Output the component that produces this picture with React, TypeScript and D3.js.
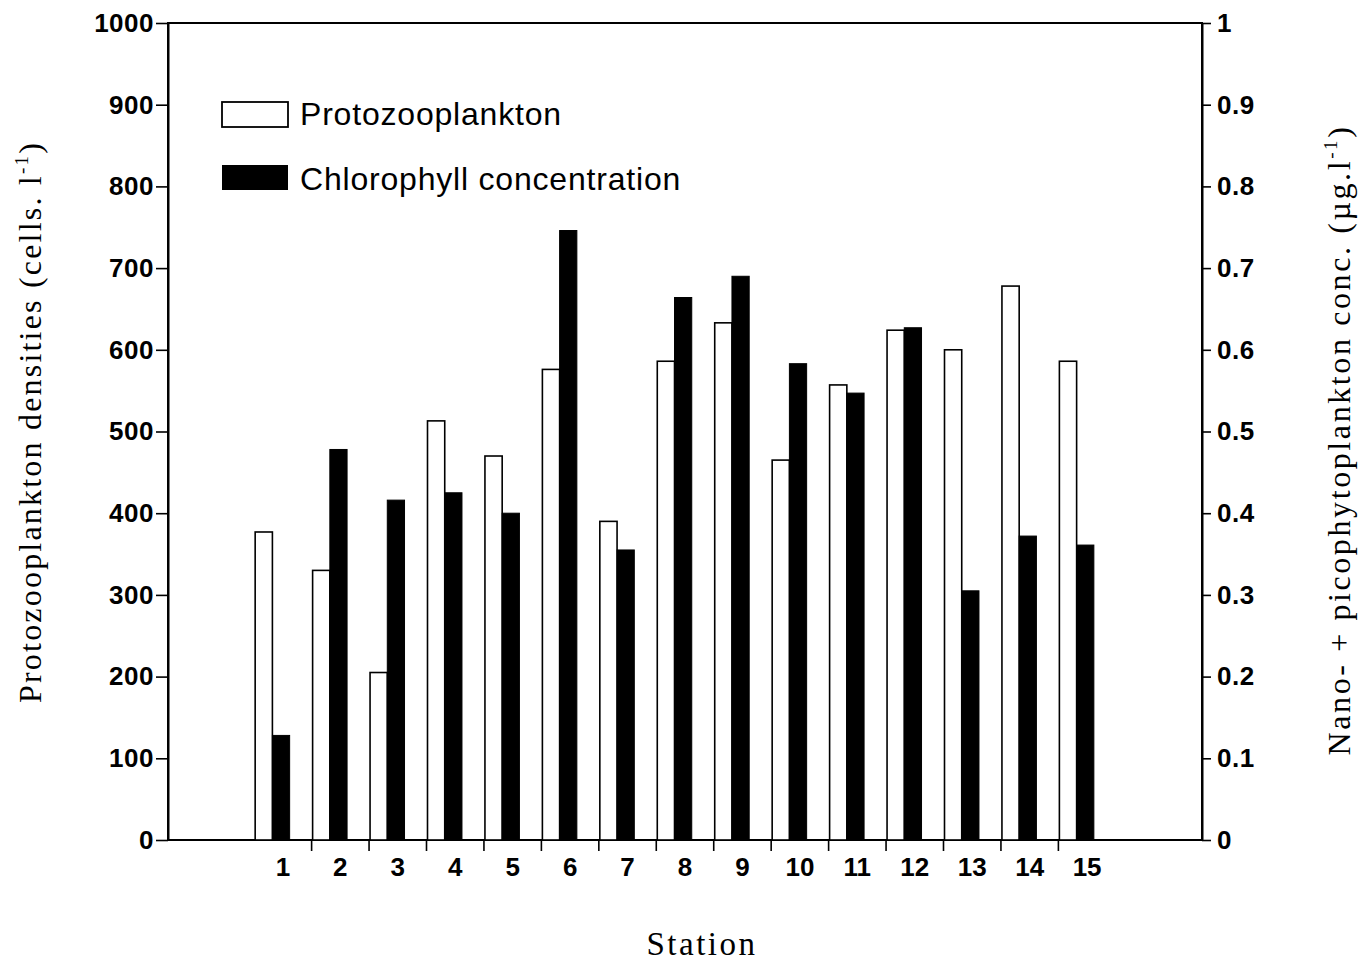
import React, { useEffect, useRef } from "react";
import * as d3 from "d3";

// Sampling stations along the transect
const stations = ["1", "2", "3", "4", "5", "6", "7", "8", "9", "10", "11", "12", "13", "14", "15"];
// Protozooplankton densities (cells per litre)
const protozooplankton = [377, 330, 205, 513, 470, 576, 390, 586, 633, 465, 557, 624, 600, 678, 586];
// Nano- + picophytoplankton chlorophyll concentration (µg per litre)
const chlorophyll = [0.128, 0.478, 0.416, 0.425, 0.4, 0.746, 0.355, 0.664, 0.69, 0.583, 0.547, 0.627, 0.305, 0.372, 0.361];
// Legend entries
const legendLabels = ["Protozooplankton", "Chlorophyll concentration"];

const W = 1361;
const H = 962;
const M = { left: 168, right: 1202, top: 23, bottom: 840 };

export default function App() {
  const ref = useRef<SVGSVGElement | null>(null);

  useEffect(() => {
    const svg = d3.select(ref.current);
    svg.selectAll("*").remove();

    const x = d3
      .scaleBand<string>()
      .domain(stations)
      .range([M.left, M.right])
      .paddingInner(0)
      .paddingOuter(1.5);
    const bw = x.bandwidth();
    const barW = bw * 0.3;

    const yL = d3.scaleLinear().domain([0, 1000]).range([M.bottom, M.top]);
    const yR = d3.scaleLinear().domain([0, 1]).range([M.bottom, M.top]);

    const tickFont = "'Liberation Sans', Arial, sans-serif";
    const serif = "'Liberation Serif', 'Times New Roman', serif";

    // frame
    svg
      .append("rect")
      .attr("x", M.left)
      .attr("y", M.top)
      .attr("width", M.right - M.left)
      .attr("height", M.bottom - M.top)
      .attr("fill", "none")
      .attr("stroke", "#000")
      .attr("stroke-width", 2);

    // bars
    const g = svg.append("g");
    g.selectAll("rect.proto")
      .data(stations)
      .join("rect")
      .attr("class", "proto")
      .attr("x", (d) => (x(d) as number) + 1)
      .attr("y", (_d, i) => yL(protozooplankton[i]))
      .attr("width", barW)
      .attr("height", (_d, i) => yL(0) - yL(protozooplankton[i]))
      .attr("fill", "#fff")
      .attr("stroke", "#000")
      .attr("stroke-width", 1.6);

    g.selectAll("rect.chl")
      .data(stations)
      .join("rect")
      .attr("class", "chl")
      .attr("x", (d) => (x(d) as number) + 1 + barW)
      .attr("y", (_d, i) => yR(chlorophyll[i]))
      .attr("width", barW)
      .attr("height", (_d, i) => yR(0) - yR(chlorophyll[i]))
      .attr("fill", "#000")
      .attr("stroke", "#000")
      .attr("stroke-width", 1);

    // left axis
    const axL = svg
      .append("g")
      .attr("transform", `translate(${M.left},0)`)
      .call(
        d3
          .axisLeft(yL)
          .ticks(10)
          .tickSize(12)
          .tickSizeOuter(0)
          .tickPadding(2)
          .tickFormat((d) => d3.format("d")(d as number))
      );
    axL.select(".domain").attr("stroke-width", 2);
    axL.selectAll(".tick line").attr("stroke-width", 1.6);
    axL
      .selectAll(".tick text")
      .attr("font-family", tickFont)
      .attr("font-size", 26)
      .attr("font-weight", "bold")
      .attr("letter-spacing", 0.5)
      .attr("fill", "#000");

    // right axis
    const axR = svg
      .append("g")
      .attr("transform", `translate(${M.right},0)`)
      .call(
        d3
          .axisRight(yR)
          .ticks(10)
          .tickSize(9)
          .tickSizeOuter(0)
          .tickPadding(6)
          .tickFormat((d) => d3.format("~g")(d as number))
      );
    axR.select(".domain").attr("stroke-width", 2);
    axR.selectAll(".tick line").attr("stroke-width", 1.6);
    axR
      .selectAll(".tick text")
      .attr("font-family", tickFont)
      .attr("font-size", 26)
      .attr("font-weight", "bold")
      .attr("letter-spacing", 0.5)
      .attr("fill", "#000");

    // bottom axis: labels at band centres, ticks at band boundaries
    const axB = svg
      .append("g")
      .attr("transform", `translate(0,${M.bottom})`)
      .call(d3.axisBottom(x).tickSize(0).tickSizeOuter(0).tickPadding(18));
    axB.select(".domain").remove();
    axB
      .selectAll(".tick text")
      .attr("font-family", tickFont)
      .attr("font-size", 26)
      .attr("font-weight", "bold")
      .attr("fill", "#000");
    svg
      .append("g")
      .selectAll("line")
      .data(stations.slice(1))
      .join("line")
      .attr("x1", (d) => x(d) as number)
      .attr("x2", (d) => x(d) as number)
      .attr("y1", M.bottom)
      .attr("y2", M.bottom + 11)
      .attr("stroke", "#000")
      .attr("stroke-width", 1.6);

    // legend
    const lg = svg.append("g");
    lg.append("rect")
      .attr("x", 222)
      .attr("y", 102)
      .attr("width", 66)
      .attr("height", 25)
      .attr("fill", "#fff")
      .attr("stroke", "#000")
      .attr("stroke-width", 1.8);
    lg.append("rect")
      .attr("x", 222)
      .attr("y", 165)
      .attr("width", 66)
      .attr("height", 25)
      .attr("fill", "#000");
    lg.selectAll("text")
      .data(legendLabels)
      .join("text")
      .attr("x", 300)
      .attr("y", (_d, i) => 125 + i * 65)
      .attr("font-family", tickFont)
      .attr("font-size", 32)
      .attr("letter-spacing", 0.8)
      .attr("fill", "#000")
      .text((d) => d);

    // axis titles
    const leftTitle = svg
      .append("text")
      .attr("transform", "translate(41,422) rotate(-90)")
      .attr("text-anchor", "middle")
      .attr("font-family", serif)
      .attr("font-size", 32)
      .attr("letter-spacing", 2.2)
      .attr("fill", "#000");
    leftTitle.append("tspan").text("Protozooplankton densities (cells. l");
    leftTitle.append("tspan").attr("dy", -13).attr("font-size", 19).text("-1");
    leftTitle.append("tspan").attr("dy", 13).text(")");

    const rightTitle = svg
      .append("text")
      .attr("transform", "translate(1350,440) rotate(-90)")
      .attr("text-anchor", "middle")
      .attr("font-family", serif)
      .attr("font-size", 32)
      .attr("letter-spacing", 2.6)
      .attr("fill", "#000");
    rightTitle.append("tspan").text("Nano- + picophytoplankton conc. (\u00b5g.l");
    rightTitle.append("tspan").attr("dy", -13).attr("font-size", 19).text("-1");
    rightTitle.append("tspan").attr("dy", 13).text(")");

    svg
      .append("text")
      .attr("x", 702)
      .attr("y", 955)
      .attr("text-anchor", "middle")
      .attr("font-family", serif)
      .attr("font-size", 33)
      .attr("letter-spacing", 2.5)
      .attr("fill", "#000")
      .text("Station");
  }, []);

  return (
    <svg
      ref={ref}
      width={W}
      height={H}
      style={{ position: "absolute", left: 0, top: 0, background: "#fff" }}
    />
  );
}
